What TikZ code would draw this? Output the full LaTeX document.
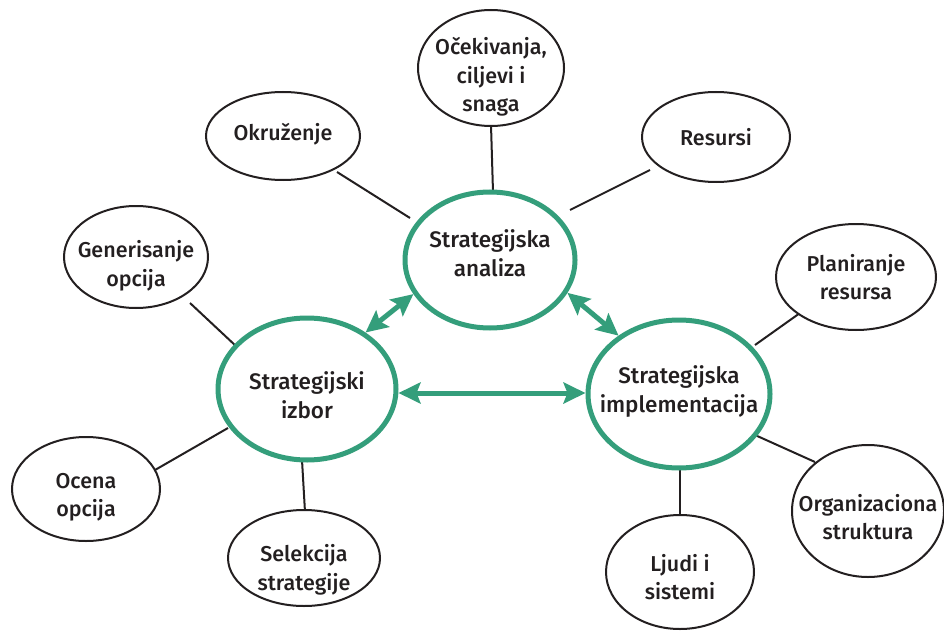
\documentclass[tikz,border=0pt]{standalone}
\usepackage{fontspec}
\setmainfont{Fira Sans}[UprightFont={* Medium}]
\usetikzlibrary{shapes.geometric,arrows.meta}
\definecolor{hubgreen}{HTML}{349E7B}
\definecolor{ink}{HTML}{231F20}
\tikzset{
  hub/.style={ellipse, draw=hubgreen, line width=5pt, inner sep=0pt, fill=white},
  leaf/.style={ellipse, draw=ink, line width=2pt, inner sep=0pt, fill=white},
  hubtext/.style={align=center, text=ink, font=\fontsize{22.5}{29}\selectfont},
  leaftext/.style={align=center, text=ink, font=\fontsize{21.5}{28.5}\selectfont},
  spoke/.style={draw=ink, line width=2pt},
  twohead/.tip={Stealth[length=22pt,width=21pt,inset=4pt]},
  link/.style={draw=hubgreen, line width=5pt, twohead-twohead}
}
\begin{document}
\begin{tikzpicture}[x=1pt,y=-1pt]
\useasboundingbox (0,0) rectangle (944,631);

% spokes first, so the ellipses cover their ends
\coordinate (s1a) at (337,172); \coordinate (s1b) at (410,218);
\coordinate (s2a) at (491,125); \coordinate (s2b) at (493,192);
\coordinate (s3a) at (650,170); \coordinate (s3b) at (570,210);
\coordinate (s4a) at (190,303); \coordinate (s4b) at (237,347);
\coordinate (s5a) at (155,470); \coordinate (s5b) at (228,428);
\coordinate (s6a) at (305,512); \coordinate (s6b) at (302,460);
\coordinate (s7a) at (800,313); \coordinate (s7b) at (755,345);
\coordinate (s8a) at (680,516); \coordinate (s8b) at (680,466);
\coordinate (s9a) at (815,462); \coordinate (s9b) at (755,435);
\foreach \i in {1,...,9} {\draw[spoke] (s\i a) -- (s\i b);}

% central process ellipses
\node[hub, minimum width=170pt, minimum height=136pt] (ana) at (490,260) {};
\node[hub, minimum width=178pt, minimum height=142pt] (izb) at (307,389) {};
\node[hub, minimum width=182pt, minimum height=148pt] (imp) at (679,394) {};
\node[hubtext] at ([yshift=7pt]ana) {Strategijska\\analiza};
\node[hubtext] at ([yshift=-6pt]izb) {Strategijski\\izbor};
\node[hubtext] at ([yshift=3pt]imp) {Strategijska\\implementacija};

% surrounding factors
\node[leaf, minimum width=154pt, minimum height=88pt] (okr) at (283,136) {};
\node[leaf, minimum width=146pt, minimum height=116pt] (oce) at (491,68) {};
\node[leaf, minimum width=148pt, minimum height=90pt] (res) at (716,137) {};
\node[leaf, minimum width=144pt, minimum height=102pt] (gen) at (136,257) {};
\node[leaf, minimum width=160pt, minimum height=106pt] (pla) at (856,277) {};
\node[leaf, minimum width=148pt, minimum height=104pt] (ocn) at (86,489) {};
\node[leaf, minimum width=152pt, minimum height=96pt] (sel) at (304,558) {};
\node[leaf, minimum width=148pt, minimum height=114pt] (lju) at (680,572) {};
\node[leaf, minimum width=152pt, minimum height=132pt] (org) at (868,511) {};

\node[leaftext] at ([yshift=2pt]okr) {Okruženje};
\node[leaftext] at ([yshift=-9pt]oce) {Očekivanja,\\ciljevi i\\snaga};
\node[leaftext] at (res) {Resursi};
\node[leaftext] at ([yshift=-9pt]gen) {Generisanje\\opcija};
\node[leaftext] at (pla) {Planiranje\\resursa};
\node[leaftext] at ([yshift=-8pt]ocn) {Ocena\\opcija};
\node[leaftext] at ([yshift=-12pt]sel) {Selekcija\\strategije};
\node[leaftext] at ([yshift=-5pt]lju) {Ljudi i\\sistemi};
\node[leaftext] at ([yshift=-6pt]org) {Organizaciona\\struktura};

% two-way links between the processes
\draw[link] (ana.204) -- (izb.44);
\draw[link] (ana.337) -- (imp.136);
\draw[link] ([yshift=-4pt]izb.east) -- ([yshift=1pt]imp.west);
\end{tikzpicture}
\end{document}
